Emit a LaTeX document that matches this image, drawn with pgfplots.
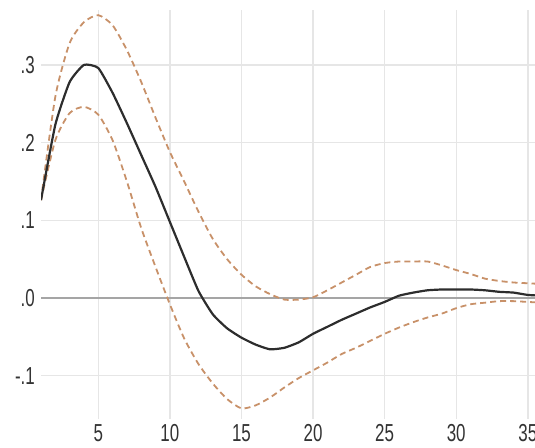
\documentclass[border=0pt]{standalone}
\usepackage{pgfplots}
\pgfplotsset{compat=1.18}
\usepackage{fontspec}
\setmainfont{Liberation Sans}
\definecolor{bandc}{RGB}{200,145,105}
\definecolor{gridc}{RGB}{230,230,230}
\definecolor{zeroc}{RGB}{165,165,165}
\definecolor{linec}{RGB}{45,45,45}
\newcommand{\T}[1]{\scalebox{1}[1.45]{#1}}
\begin{document}
\begin{tikzpicture}[x=1bp,y=1bp]
\begin{axis}[
  name=ax,
  scale only axis,
  width=494bp, height=408bp,
  xmin=1, xmax=35.5,
  ymin=-0.155, ymax=0.37,
  axis line style={draw=none},
  major tick length=0pt,
  xtick={5,10,15,20,25,30,35},
  xticklabels={\T{5},\T{10},\T{15},\T{20},\T{25},\T{30},\T{35}},
  ytick={-0.1,0,0.1,0.2,0.3},
  yticklabels={\T{-.1},\T{.0},\T{.1},\T{.2},\T{.3}},
  xticklabel style={font=\fontsize{17}{17}\selectfont, text=black!80},
  yticklabel style={font=\fontsize{17}{17}\selectfont, text=black!80},
  x tick label style={inner sep=0pt, yshift=-6bp, anchor=north},
  y tick label style={inner sep=0pt, xshift=-6bp, anchor=east},
  grid=major,
  major grid style={gridc, line width=1.4bp},
  clip=true,
]
\addplot[zeroc, line width=1.6bp, forget plot] coordinates {(0,0) (40,0)};
\addplot[bandc, line width=1.8bp, dash pattern=on 6bp off 4bp, smooth, tension=0.4] coordinates {
(1,0.126) (2,0.259) (3,0.328) (4,0.355) (5,0.364) (6,0.351) (7,0.319) (8,0.278)
(9,0.232) (10,0.188) (11,0.150) (12,0.111) (13,0.076) (14,0.050) (15,0.030)
(16,0.015) (17,0.005) (18,-0.002) (19,-0.002) (20,0.001) (21,0.010) (22,0.020)
(23,0.030) (24,0.040) (25,0.045) (26,0.047) (27,0.047) (28,0.047) (29,0.042)
(30,0.036) (31,0.031) (32,0.025) (33,0.022) (34,0.020) (35,0.019) (36,0.018)};
\addplot[bandc, line width=1.8bp, dash pattern=on 6bp off 4bp, smooth, tension=0.4] coordinates {
(1,0.126) (2,0.203) (3,0.238) (4,0.246) (5,0.236) (6,0.203) (7,0.150) (8,0.090)
(9,0.040) (10,-0.008) (11,-0.052) (12,-0.085) (13,-0.110) (14,-0.130) (15,-0.142)
(16,-0.138) (17,-0.128) (18,-0.115) (19,-0.103) (20,-0.093) (21,-0.083) (22,-0.072)
(23,-0.064) (24,-0.055) (25,-0.046) (26,-0.038) (27,-0.031) (28,-0.025) (29,-0.020)
(30,-0.013) (31,-0.008) (32,-0.006) (33,-0.004) (34,-0.004) (35,-0.005) (36,-0.006)};
\addplot[linec, line width=2.2bp, smooth, tension=0.3] coordinates {
(1,0.126) (2,0.223) (3,0.278) (4,0.300) (5,0.296) (6,0.264) (7,0.225) (8,0.184)
(9,0.143) (10,0.098) (11,0.053) (12,0.009) (13,-0.021) (14,-0.039) (15,-0.051)
(16,-0.060) (17,-0.066) (18,-0.064) (19,-0.057) (20,-0.046) (21,-0.037) (22,-0.028)
(23,-0.020) (24,-0.012) (25,-0.005) (26,0.003) (27,0.007) (28,0.010) (29,0.011)
(30,0.011) (31,0.011) (32,0.010) (33,0.008) (34,0.007) (35,0.004) (36,0.003)};
\end{axis}
\pgfresetboundingbox
\path (ax.south west) ++(-41bp,-29bp) coordinate (bl);
\path (ax.north east) ++(0bp,10.5bp) coordinate (tr);
\path[use as bounding box] (bl) rectangle (tr);
\end{tikzpicture}
\end{document}
